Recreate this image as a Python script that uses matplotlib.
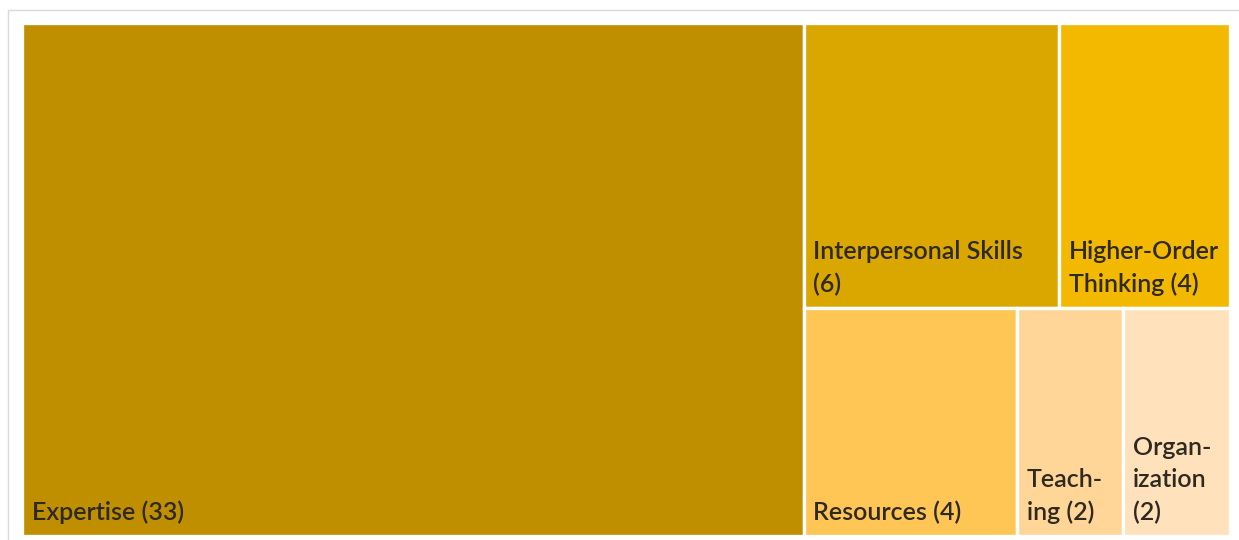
import matplotlib.pyplot as plt
from matplotlib.patches import Rectangle

# treemap data (counts of codes per category)
categories = ["Expertise", "Interpersonal Skills", "Higher-Order Thinking",
              "Resources", "Teaching", "Organization"]
counts = [33, 6, 4, 4, 2, 2]
# label text as it is wrapped in the tiles
tile_labels = ["Expertise (33)",
               "Interpersonal Skills\n(6)",
               "Higher-Order\nThinking (4)",
               "Resources (4)",
               "Teach-\ning (2)",
               "Organ-\nization\n(2)"]
colors = ["#BF8F00", "#DAA600", "#F3B800", "#FFC656", "#FFD698", "#FFE1BC"]

# rows of the right-hand block (indices into the lists above)
right_rows = [[1, 2], [3, 4, 5]]

W, H = 1239, 540
fig = plt.figure(figsize=(W / 100, H / 100), dpi=100)
fig.patch.set_facecolor("white")

# light grey chart frame, only top and left edges are visible
frame = Rectangle((8 / W, -40 / H), 1.2, (540 - 10 + 40) / H,
                  transform=fig.transFigure, fill=False,
                  edgecolor="#D9D9D9", linewidth=1.0, clip_on=False)
fig.add_artist(frame)

# plot area of the treemap in pixels
left, top, right, bottom = 22, 23, 1230, 536
ax = fig.add_axes([left / W, 1 - bottom / H, (right - left) / W, (bottom - top) / H])
ax.set_xlim(0, 1)
ax.set_ylim(1, 0)
ax.axis("off")

total = sum(counts)
rects = {}
# first category takes a full-height column
w0 = counts[0] / total
rects[0] = (0, 0, w0, 1)
rest = sum(counts[1:])
y = 0
for row in right_rows:
    row_sum = sum(counts[i] for i in row)
    h = row_sum / rest
    x = w0
    for i in row:
        w = (1 - w0) * counts[i] / row_sum
        rects[i] = (x, y, w, h)
        x += w
    y += h

for i in range(len(categories)):
    x, y, w, h = rects[i]
    ax.add_patch(Rectangle((x, y), w, h, facecolor=colors[i],
                           edgecolor="white", linewidth=2.4))
    ax.annotate(tile_labels[i], xy=(x, y + h), xytext=(7, 8.5),
                textcoords="offset points", ha="left", va="bottom",
                fontsize=18, family="Lato", fontweight="semibold",
                color="#2F2A20", linespacing=1.5)

fig.savefig("out.png", dpi=100)
